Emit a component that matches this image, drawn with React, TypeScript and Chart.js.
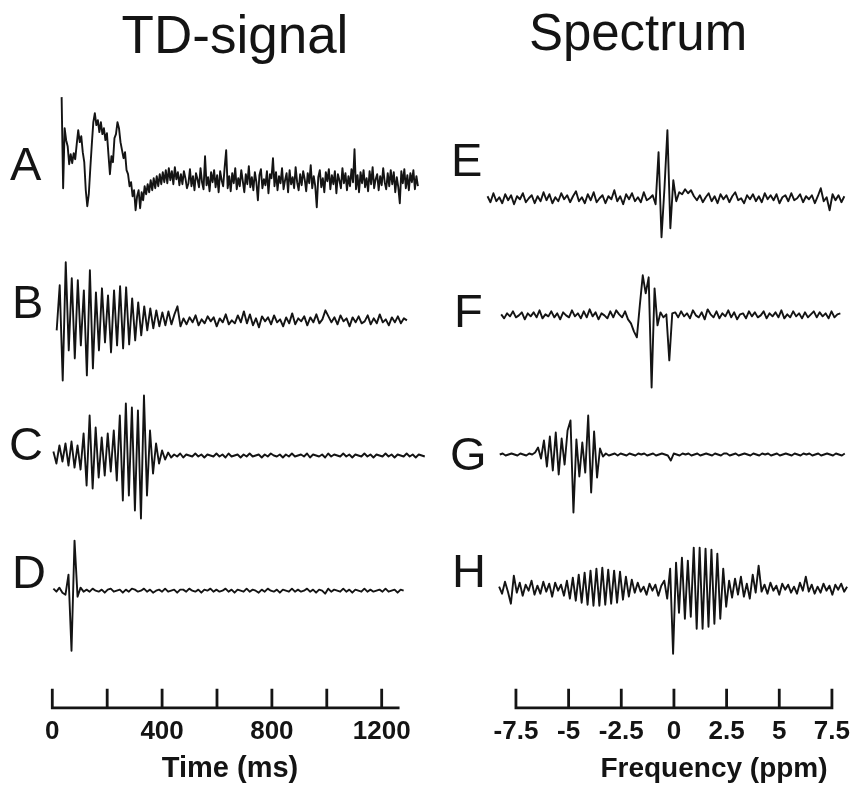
import React, { useEffect, useRef } from 'react';
import { Chart, registerables } from 'chart.js';

Chart.register(...registerables);

// ---------------- data ----------------
// Time-domain traces: deflection values per sample
const A_T0 = 34;
const A_DT = 5.5;
const A_VALUES = [
  83, -8, 52, 40, 34, 16, 26, 17, 27, 21,
  36, 50, 38, 44, 28, 18, -10, -26, -14, 12,
  36, 58, 67, 55, 60, 48, 58, 46, 52, 40,
  47, 26, 6, 24, 18, 42, 46, 58, 52, 38,
  30, 22, 28, 10, 6, -6, -2, -16, -10, -30,
  -16, -10, -28, -12, -20, -6, -14, -4, -12, 0,
  -10, 2, -8, 4, -6, 6, -4, 8, -2, 10,
  -3, 12, 0, 9, -4, 13, 1, 8, -5,
  6, -4, 9, 2, -8, -3, 11, -6, 4, -10,
  7, 1, -7, 12, -2, -9, 24, -5, 3, -11,
  8, -2, 10, -7, 5, -12, 9, 0, -6, 13,
  30, -8, 4, -11, 7, -3, 12, -9, 2, -6,
  10, -1, -12, 6, -4, 14, -7, 3, -10, 8,
  -2, -20, 5, 11, -8, 1, -5, 9, -13, 6,
  2, 22, -6, 8, -10, 4, -3, 12, -9, 0,
  7, -12, 10, -4, 3, -8, 13, -2, -10, 6,
  -5, 9, 1, -11, 7, -3, 15, -8, 4, -6,
  -27, 3, 10, -7, 2, -12, 8, -1, 11, -9,
  5, -4, 9, -13, 6, 0, -8, 12, -3, 7,
  -10, 4, -6, 11, -2, 31, -9, 5, -12, 8,
  -3, 10, -7, 2, -11, 9, -4, 13, -8, 1,
  6, -10, 4, -5, 12, -2, -9, 7, -6, 10,
  -4, 8, -12, 3, -7, -23, 9, -3, 11, -8,
  5, -10, 7, -2, 10, -9, 4, -6,
];
const TD_DT = 11;
const B_T0 = 16;
const B_VALUES = [
  -10, 35, -60, 58, -30, 42, -38, 40, -25, 30,
  -55, 50, -48, 28, -30, 32, -22, 25, -32, 30,
  -25, 34, -28, 33, -24, 22, -20, 18, -15, 14,
  -10, 12, -8, 10, -6, 8, -5, 9, -4, 6,
  14, -6,
  2, -4, 3, -2, 5, -5, 1, -3, 4, -1, 3, -6, 2, -2, 6, -4, 0, -3, 5, -2,
  9, -3, 6, -5, 2, -7, 4, -1, 3, -4, 5, -2, 1, -6, 3, -3, 7, -4, 2, -1,
  4, -5, 3, -2, 6, -3, 1, 10, 4, -2, 3, -4, 5, -1, 2, -6, 3, -2, 4, -3,
  -1, 5, -4, 2, -3, 6, -2, 1, -5, 3, -2, 4, -3, 2, 0,
];
const C_T0 = 4;
const C_VALUES = [
  4, -8, 10, -6, 12, -10, 14, -12, 10, -14,
  22, -30, 40, -33, 28, -22, 18, -20, 22, -16,
  25, -25, 40, -45, 52, -40, 48, -55, 45, -63,
  60, -40, 25, -18, 12, -8, 5, -4, 3,
  -2, 1, -1, 2, -2, 1, 0, -1, 2, -1, 1, -2, 1, 0, -1, 2, -1, 1, -2, 2,
  -1, 0, 1, -2, 1, -1, 2, -1, 0, 1, -2, 1, -1, 2, 0, -1, 1, -2, 1, -1,
  2, -1, 0, 1, -1, 2, -2, 1, 0, -1, 1, -2, 2, -1, 1, 0, -1, 2, -1, 1,
  -2, 1, 0, -1, 2, -1, 1, -2, 1, 0, -1, 2, -1, 1, -2, 1, 0, -1, 2, -1,
  1, -2, 1, 0, -1,
];
const D_T0 = 4;
const D_VALUES = [
  2, -1, 3, -2, -4, 16, -60, 50, -6, 3, -1,
  1, -1, 2, 0, -1, 1, -2, 1, 2, -1,
  0, 1, -2, 1, -1, 2, 1, -1, 0, 2,
  -1, 1, -2, 0, 1, -1, 2, -1, 0, 1,
  -2, 1, 1, -1, 2, 0, -1, 1, -2, 1,
  0, 2, -1, 1, -1, 0, 2, -1, 1, -2,
  1, 0, -1, 2, -1, 1, 0, -2, 1, -1,
  2, 0, -1, 1, -2, 1, 0, -1, 2, -1,
  1, -1, 0, 2, -1, 1, -2, 1, 0, -3,
  2, -1, 1, 0, -1, 2, -1, 1, -2, 1,
  0, -1, 2, -1, 1, -1, 0, 1, -1, 2,
  -1, 0, 1, -2, 1, 0,
];

// Spectra: deflection values, one sample every PPM_DP ppm
const PPM_DP = 0.14;
const E_P0 = -8.85;
const E_VALUES = [
  2, -4, 5, -3, 1, -5, 4, -2, 3, -6, 2, -1, 5, -4, 0, 3, -5, 2, -3, 6,
  -2, 4, -5, 1, -3, 5, -1, 3, -4, 2, 7, -3, 1, -5, 4, -2, 6, -4, 0, 3,
  -5, 2, -1, 8, -3, 2, -6, 4, -1, 5, -3, 1, -4, 6, -2, 0,
  3, -6, 46, -39, 10, 68, -30, 18, -3, 6, 4, 9, 5, 8, 2,
  -2, 3, -4, 1, 5, -3, 2, -5, 4, -1, 3, -4, 2, 6, -2, 0, -5, 3, -1, 4,
  -3, 2, -4, 5, -1, 3, -2, 4, -5, 1, 3, -3, 5, -2, 0, 4, -4, 2, -1, 3,
  -5, 2, 10, -3, 1, -12, 4, -2, 3, -4, 2,
];
const F_P0 = -8.2;
const F_VALUES = [
  1, -3, 2, -1, 4, -2, 0, 3, -4, 2, -1, 3, -2, 5, -3, 1, -1, 4, -2, 2,
  -4, 3, 0, -2, 5, -1, 2, -3, 4, -2, 6, -1, 3, -4, 2, 0, -3, 4, -2, 5, 1,
  -2, 4, -4, -8, -16, -22, 10, 40, 22, 38, -72, 27, -10, 3, -2, 1, -45, 2,
  3, -2, 4, -1, 2, -3, 5, 0, -2, 3, -4, 6, 1, -2, 4, -3, 2, -1, 5, -2,
  3, -4, 1, 2, -3, 4, -1, 3, -2, 0, 4, -3, 2, -1, 3, -2, 5, -3, 1, -2,
  4, -1, 2, -3, 3, -2, 1, 4, -2, 3, -1, 2, -3, 4, -2, 1, 2,
];
const G_P0 = -8.27;
const G_VALUES = [
  0, 1, -1, 0, 1, 0, -1, 1, 0, -1, 1, 0,
  2, 7, -4, 14, -12, 18, -16, 22, -20, 16, -10, 24, 34, -58, 15, -22, 12, -18, 39, -38, 23, -23, 6, -2,
  1, -1, 0, 1, -1, 1, 0, -1, 1, 0, -1, 1, 0, 1, -1, 0, 1, -1, 0, 1, 0, -1,
  -6,
  1, 0, -1, 1, 0, 1, -1, 0, 1, -1, 0, 1, 0, -1, 1, 0, -1, 1, 1, -1,
  0, 1, -1, 0, 1, 0, -1, 1, 0, -1, 1, 0, 1, -1, 0, 1, -1, 0, 1, 0,
  -1, 1, 0, -1, 1, 0, 1, -1, 0, 1, -1, 0, 1, 0, -1, 1, 0, -1, 1,
];
const H_P0 = -8.3;
const H_VALUES = [
  2, -5, 7, -3, -15, 13, -4, 6, -7, 4, -2, 8, -6, 3, -5, 7, -3, 5, -8, 6, -2, 4, -7,
  8, -10, 11, -12, 14, -14, 16, -16, 18, -17, 20, -17, 21, -16, 19, -15, 18, -14, 17, -11, 12, -8, 9,
  -4, 6, -3, 2, -6, 5, -2, 4, -7, 3, 8,
  -10, 20, -65, 26, -24, 31, -30, 28, -28, 41, -40, 41, -40, 40, -38, 39, -35, 35, -30, 20, -18,
  8, -9, 10, -6, 12, -8, 5, -10, 14, -4, 23, -3,
  4, -5, 6, -2, 3, -6, 5, -1, 4, -4, 2, -5, 6, -2, 12, -3, 4, -5, 2, -4,
  5, -2, 3, -6, 4, -1, 5, -3, 2,
];

const TIME_TICKS = [0, 200, 400, 600, 800, 1000, 1200];
const TIME_LABEL_STEP = 400;
const TIME_AXIS_END = 1265;
const PPM_TICKS = [-7.5, -5, -2.5, 0, 2.5, 5, 7.5];

// ---------------- layout ----------------
const FONT = "'Liberation Sans', Arial, Helvetica, sans-serif";
const INK = '#141414';
const AREA_TOP = 0;
const AREA_BOTTOM = 707;

type Trace = { id: string; start: number; step: number; values: number[]; base: number };

const axisRule = {
  id: 'axisRule',
  afterDraw(chart: any, _args: any, opts: any) {
    const xs = chart.scales.x;
    const ctx = chart.ctx;
    const y = xs.top;
    ctx.save();
    ctx.strokeStyle = INK;
    ctx.lineWidth = 2.8;
    ctx.lineCap = 'butt';
    ctx.beginPath();
    ctx.moveTo(xs.getPixelForValue(opts.from) - 1.4, y);
    ctx.lineTo(xs.getPixelForValue(opts.to), y);
    for (const t of xs.ticks) {
      const px = xs.getPixelForValue(t.value);
      ctx.moveTo(px, y + 1.4);
      ctx.lineTo(px, y - 19);
    }
    ctx.stroke();
    ctx.restore();
  },
};

function TraceChart(props: {
  left: number;
  width: number;
  xMin: number;
  xMax: number;
  ticks: number[];
  label: (v: number) => string;
  axisFrom: number;
  axisTo: number;
  traces: Trace[];
}) {
  const ref = useRef<HTMLCanvasElement | null>(null);
  useEffect(() => {
    if (!ref.current) return;
    const scales: any = {
      x: {
        type: 'linear',
        position: 'bottom',
        min: props.xMin,
        max: props.xMax,
        afterBuildTicks: (s: any) => {
          s.ticks = props.ticks.map((value) => ({ value }));
        },
        ticks: {
          autoSkip: false,
          maxRotation: 0,
          padding: 8,
          color: INK,
          font: { family: FONT, size: 26, weight: 'bold' },
          callback: (v: any) => props.label(Number(v)),
        },
        grid: { display: false, drawTicks: false },
        border: { display: false },
      },
    };
    props.traces.forEach((t) => {
      scales[t.id] = {
        type: 'linear',
        display: false,
        min: t.base - AREA_BOTTOM,
        max: t.base - AREA_TOP,
      };
    });
    const chart = new Chart(ref.current, {
      type: 'line',
      data: {
        datasets: props.traces.map((t) => ({
          label: t.id,
          yAxisID: t.id,
          data: t.values.map((v, i) => ({ x: t.start + i * t.step, y: v })),
          borderColor: INK,
          borderWidth: 1.9,
          borderJoinStyle: 'round' as any,
          pointRadius: 0,
          tension: 0,
          fill: false,
          clip: false as any,
        })),
      },
      options: {
        animation: false,
        responsive: false,
        devicePixelRatio: 1,
        events: [],
        layout: { padding: { top: 0, left: 0, right: 0, bottom: 30 } },
        plugins: {
          legend: { display: false },
          tooltip: { enabled: false },
          axisRule: { from: props.axisFrom, to: props.axisTo },
        } as any,
        scales,
      },
      plugins: [axisRule as any],
    });
    return () => chart.destroy();
  }, []);
  return (
    <canvas
      ref={ref}
      width={props.width}
      height={785}
      style={{ position: 'absolute', left: props.left, top: 0, width: props.width, height: 785 }}
    />
  );
}

function Text(p: { text: string; x: number; baseline: number; size: number; bold?: boolean; center?: boolean }) {
  const top = p.baseline - 0.8465 * p.size;
  return (
    <div
      style={{
        position: 'absolute',
        left: p.center ? p.x - 300 : p.x,
        width: p.center ? 600 : undefined,
        top,
        fontFamily: FONT,
        fontSize: p.size,
        lineHeight: `${p.size}px`,
        fontWeight: p.bold ? 'bold' : 'normal',
        color: INK,
        textAlign: p.center ? 'center' : 'left',
        whiteSpace: 'nowrap',
      }}
    >
      {p.text}
    </div>
  );
}

export default function App() {
  const left: Trace[] = [
    { id: 'yA', start: A_T0, step: A_DT, values: A_VALUES, base: 180 },
    { id: 'yB', start: B_T0, step: TD_DT, values: B_VALUES, base: 320 },
    { id: 'yC', start: C_T0, step: TD_DT, values: C_VALUES, base: 455 },
    { id: 'yD', start: D_T0, step: TD_DT, values: D_VALUES, base: 590 },
  ];
  const right: Trace[] = [
    { id: 'yE', start: E_P0, step: PPM_DP, values: E_VALUES, base: 198 },
    { id: 'yF', start: F_P0, step: PPM_DP, values: F_VALUES, base: 315 },
    { id: 'yG', start: G_P0, step: PPM_DP, values: G_VALUES, base: 454 },
    { id: 'yH', start: H_P0, step: PPM_DP, values: H_VALUES, base: 588 },
  ];
  return (
    <div style={{ position: 'absolute', left: 0, top: 0, width: 858, height: 785, overflow: 'hidden', background: '#fff' }}>
      <TraceChart
        left={0}
        width={430}
        xMin={-190.5}
        xMax={1376}
        ticks={TIME_TICKS}
        label={(v) => (v % TIME_LABEL_STEP === 0 ? String(v) : '')}
        axisFrom={0}
        axisTo={TIME_AXIS_END}
        traces={left}
      />
      <TraceChart
        left={430}
        width={428}
        xMin={-11.58}
        xMax={8.486}
        ticks={PPM_TICKS}
        label={(v) => String(v)}
        axisFrom={PPM_TICKS[0]}
        axisTo={PPM_TICKS[PPM_TICKS.length - 1]}
        traces={right}
      />
      <Text text="TD-signal" x={235} baseline={53} size={53} center />
      <Text text="Spectrum" x={638} baseline={50} size={51} center />
      <Text text="A" x={10} baseline={180} size={47} />
      <Text text="B" x={12} baseline={318} size={47} />
      <Text text="C" x={9} baseline={460} size={47} />
      <Text text="D" x={12} baseline={588} size={47} />
      <Text text="E" x={451} baseline={176} size={47} />
      <Text text="F" x={454} baseline={327} size={47} />
      <Text text="G" x={450} baseline={470} size={47} />
      <Text text="H" x={452} baseline={587} size={47} />
      <Text text="Time (ms)" x={230} baseline={778} size={29} bold center />
      <Text text="Frequency (ppm)" x={714} baseline={778} size={28} bold center />
    </div>
  );
}
